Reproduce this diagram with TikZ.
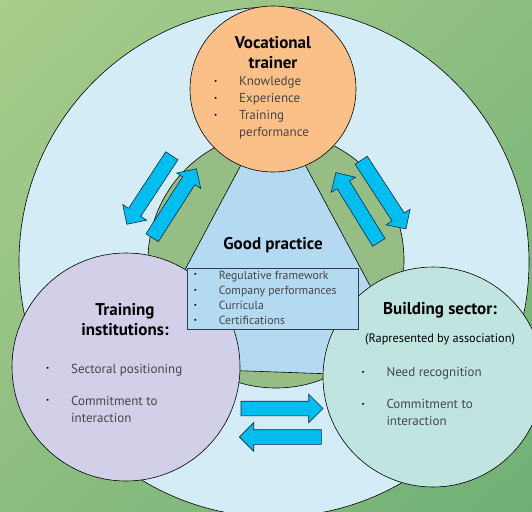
\documentclass[tikz,border=0pt]{standalone}
\usepackage{fontspec}
\setmainfont{PT Sans}
\usetikzlibrary{shapes.arrows,positioning,shadings}

\definecolor{bgtop}{RGB}{168,205,140}
\definecolor{bgmid}{RGB}{140,190,128}
\definecolor{bgbottom}{RGB}{112,176,118}
\definecolor{outerblue}{RGB}{212,236,246}
\definecolor{ringgreen}{RGB}{150,190,132}
\definecolor{practiceblue}{RGB}{180,218,242}
\definecolor{trainerorange}{RGB}{250,192,136}
\definecolor{institutepurple}{RGB}{210,208,232}
\definecolor{sectorteal}{RGB}{192,228,224}
\definecolor{arrowcyan}{RGB}{0,190,240}
\definecolor{arrowline}{RGB}{20,40,70}
\definecolor{boxline}{RGB}{50,60,80}
\definecolor{listgray}{RGB}{70,70,70}

\tikzset{bubble/.style={circle, draw, line width=0.6pt, inner sep=0pt},
	blockarrow/.style={single arrow, draw=arrowline, line width=0.6pt, fill=arrowcyan, minimum height=82pt, minimum width=28pt, single arrow head extend=7pt, inner xsep=0pt, inner ysep=7pt, anchor=tail},
	heading/.style={align=center, inner sep=0pt, font=\fontsize{17}{20}\selectfont\bfseries},
	itemlist/.style={anchor=north west, inner sep=0pt, text=listgray, font=\fontsize{13}{17}\selectfont}}
\newcommand{\bul}{\raisebox{0.18em}{\color{black}\fontsize{7}{7}\selectfont\textbullet}}

\begin{document}
\begin{tikzpicture}[x=1pt, y=-1pt]
			\shade[upper left=bgtop, upper right=bgmid, lower left=bgmid, lower right=bgbottom] (0,0) rectangle (532,511);
			\useasboundingbox (0,0) rectangle (532,511);
			\node (outer) [bubble, fill=outerblue, minimum size=510pt] at (274,262) {};
			\node (ring) [bubble, fill=ringgreen, minimum size=256pt] at (276,260) {};
			\coordinate (apex) at (273,105);
			\coordinate (leftfoot) at (133,367);
			\coordinate (rightfoot) at (419,377);
			\draw[line width=0.6pt, fill=practiceblue] (apex) -- (leftfoot) -- (rightfoot) -- cycle;
			\node (a1) [blockarrow, rotate=236.7] at (172,155.5) {};
			\node (a2) [blockarrow, rotate=57.3] at (152,238) {};
			\node (a3) [blockarrow, rotate=303.1] at (361,160) {};
			\node (a4) [blockarrow, rotate=121.6] at (379,242.7) {};
			\node (a5) [blockarrow, rotate=0] at (240.7,408.5) {};
			\node (a6) [blockarrow, rotate=180] at (321.7,437) {};
			\node (trainer) [bubble, fill=trainerorange, minimum size=166pt] at (273,89) {};
			\node (institute) [bubble, fill=institutepurple, minimum size=228pt] at (126,367) {};
			\node (sector) [bubble, fill=sectorteal, minimum size=220pt] at (433,377) {};
			\node (trainerhead) [heading] at (273,53) {Vocational\\trainer};
			\node (practicehead) [heading] at (273,245) {Good practice};
			\node (institutehead) [heading] at (125,320) {Training\\institutions:};
			\node (sectorhead) [heading] at (440,310) {Building sector:};
			\node (sectornote) [inner sep=0pt, font=\fontsize{12.3}{14}\selectfont] at (440,339) {(Rapresented by association)};
			\node (trainerlist) [itemlist] at (214,73.4) {\begin{tabular}{@{}p{25pt}@{}l@{}}
				\bul & Knowledge\\ \bul & Experience\\ \bul & Training\\ & performance
			\end{tabular}};
			\node (institutelist) [itemlist] at (46,361) {\begin{tabular}{@{}p{25pt}@{}l@{}}
				\bul & Sectoral positioning\\[15pt] \bul & Commitment to\\ & interaction
			\end{tabular}};
			\node (sectorlist) [itemlist] at (361.3,364.3) {\begin{tabular}{@{}p{25pt}@{}l@{}}
				\bul & Need recognition\\[15pt] \bul & Commitment to\\ & interaction
			\end{tabular}};
			\node (practicelist) [itemlist, draw=boxline, line width=0.6pt, fill=practiceblue, inner xsep=6.5pt, minimum height=60pt, font=\fontsize{11.8}{15.3}\selectfont] at (187,268) {\begin{tabular}{@{}p{25pt}@{}p{133pt}@{}}
				\bul & Regulative framework\\ \bul & Company performances\\ \bul & Curricula\\ \bul & Certifications
			\end{tabular}};
		\end{tikzpicture}
\end{document}
